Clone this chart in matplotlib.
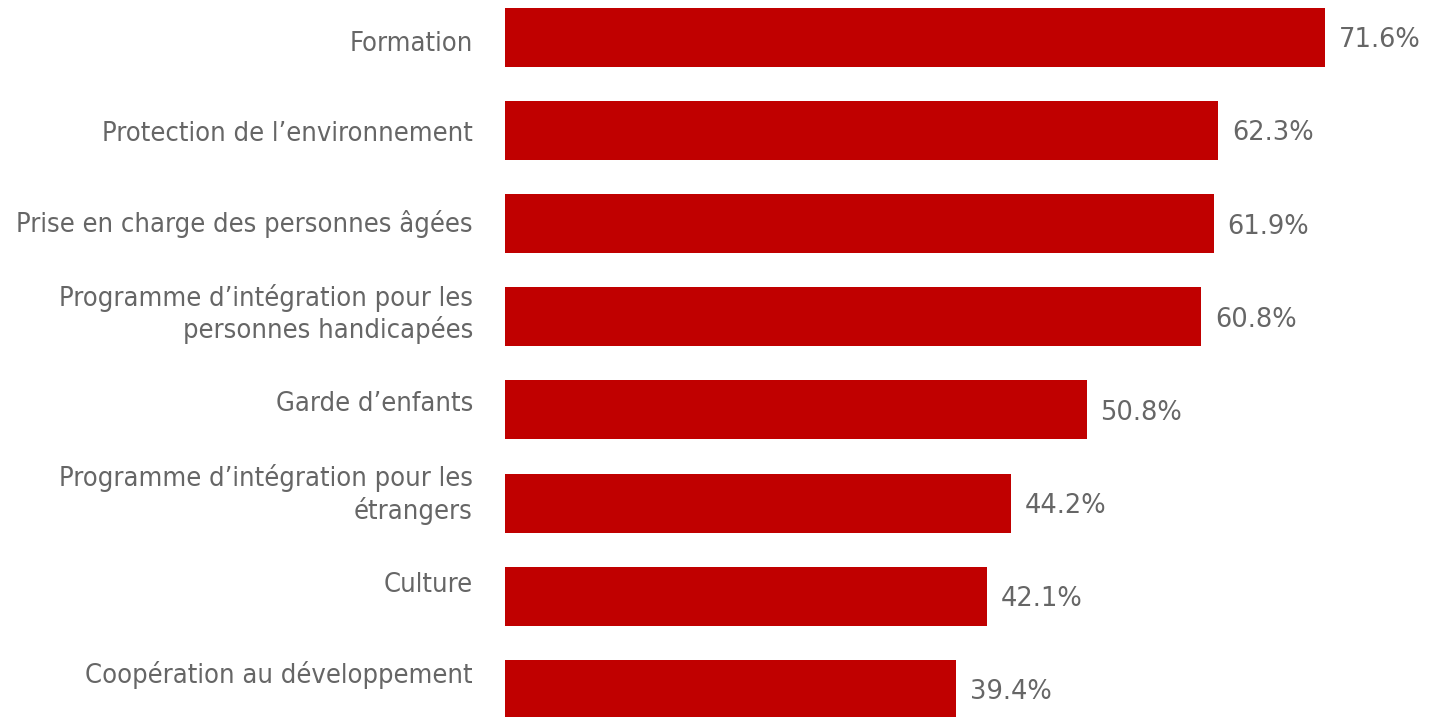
import matplotlib
matplotlib.use("Agg")
import matplotlib.pyplot as plt

# data
categories = [
    "Formation",
    "Protection de l\u2019environnement",
    "Prise en charge des personnes âgées",
    "Programme d\u2019intégration pour les\npersonnes handicapées",
    "Garde d\u2019enfants",
    "Programme d\u2019intégration pour les\nétrangers",
    "Culture",
    "Coopération au développement",
]
values = [71.6, 62.3, 61.9, 60.8, 50.8, 44.2, 42.1, 39.4]

bar_color = "#C00000"
text_color = "#666666"

plt.rcParams['font.family'] = ['DejaVu Sans']

fig = plt.figure(figsize=(14.3, 7.17), dpi=100)
ax = fig.add_axes([505 / 1430, 0, 916 / 1430, 1])

pos = list(range(len(categories)))
ax.barh(pos, values, height=0.634, color=bar_color)

ax.set_xlim(0, 80)
ax.set_ylim(7.298, -0.403)
ax.set_xticks([])
ax.set_yticks([])

# category labels sit on a slightly tighter spacing than the bars
for i, lab in enumerate(categories):
    ax.text(-2.8, 0.067 + i * 0.968, lab, ha='right', va='center',
            multialignment='right', fontsize=19.5, fontstretch='condensed',
            color=text_color, linespacing=1.2, clip_on=False)

for i, v in enumerate(values):
    ax.text(v + 1.2, i + 0.03, f"{v}%", va='center', ha='left',
            fontsize=18.5, color=text_color)

for s in ax.spines.values():
    s.set_visible(False)

fig.savefig("out.png", dpi=100)
